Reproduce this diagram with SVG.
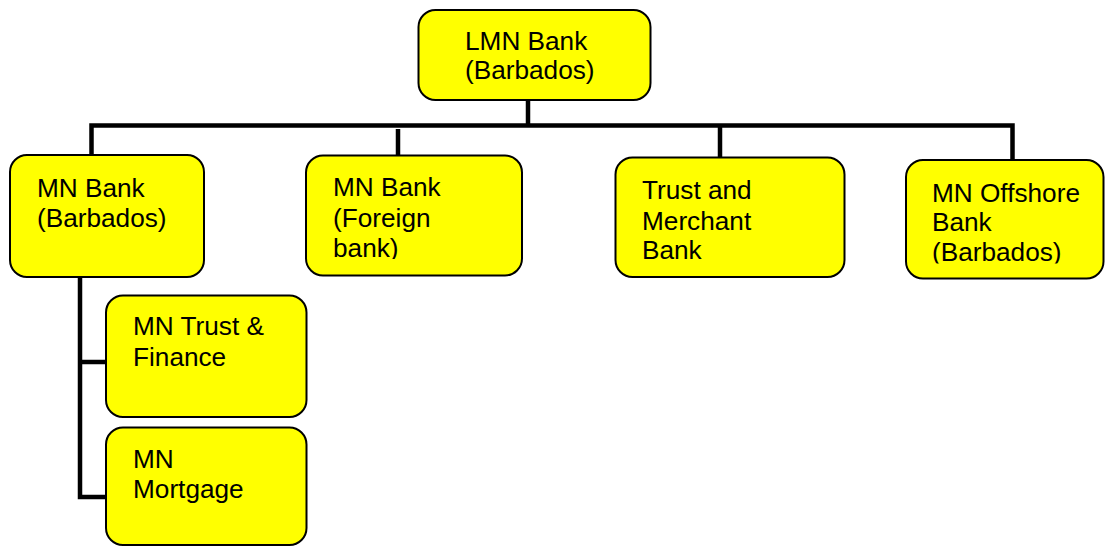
<svg xmlns="http://www.w3.org/2000/svg" width="1105" height="546" viewBox="0 0 1105 546">
<style>
.box{fill:#ffff00;stroke:#000;stroke-width:2}
.t{font-family:"Liberation Sans",Arial,sans-serif;font-size:26.2px;fill:#000}
.c{stroke:#000;stroke-width:4.5;fill:none}
</style>
<defs>
<clipPath id="clipF"><rect x="300" y="150" width="230" height="109"/></clipPath>
<clipPath id="clipO"><rect x="900" y="150" width="205" height="113.5"/></clipPath>
</defs>
<rect width="1105" height="546" fill="#fff"/>
<g id="connectors">
<polyline class="c" points="528,100 528,125.5"/>
<polyline class="c" points="91.5,155 91.5,125.5 1012.5,125.5 1012.5,160"/>
<polyline class="c" points="398,129 398,156"/>
<polyline class="c" points="720,125.5 720,157"/>
<polyline class="c" points="80,277 80,497 106,497"/>
<polyline class="c" points="80,362 106,362"/>
</g>
<g id="lmn">
<rect class="box" x="418.5" y="10" width="232" height="90" rx="17"/>
<text class="t" x="465" y="50">LMN Bank</text>
<text class="t" x="465" y="79">(Barbados)</text>
</g>
<g id="mnbank">
<rect class="box" x="10" y="155" width="194" height="122" rx="17"/>
<text class="t" x="37" y="197">MN Bank</text>
<text class="t" x="37" y="227">(Barbados)</text>
</g>
<g id="foreign">
<rect class="box" x="306" y="155.5" width="216" height="120" rx="17"/>
<g clip-path="url(#clipF)">
<text class="t" x="333" y="196">MN Bank</text>
<text class="t" x="333" y="227">(Foreign</text>
<text class="t" x="333" y="257">bank)</text>
</g>
</g>
<g id="trust">
<rect class="box" x="615.5" y="157.5" width="229" height="119.5" rx="17"/>
<text class="t" x="642" y="199">Trust and</text>
<text class="t" x="642" y="229.5">Merchant</text>
<text class="t" x="642" y="258.5">Bank</text>
</g>
<g id="offshore">
<rect class="box" x="906" y="160" width="197.5" height="118.5" rx="17"/>
<g clip-path="url(#clipO)">
<text class="t" x="932" y="201.5">MN Offshore</text>
<text class="t" x="932" y="231">Bank</text>
<text class="t" x="932" y="260.5">(Barbados)</text>
</g>
</g>
<g id="trustfinance">
<rect class="box" x="106" y="295.5" width="200.5" height="121.5" rx="17"/>
<text class="t" x="133" y="335">MN Trust &amp;</text>
<text class="t" x="133" y="366">Finance</text>
</g>
<g id="mortgage">
<rect class="box" x="106" y="427.5" width="200.5" height="117.5" rx="17"/>
<text class="t" x="133" y="468">MN</text>
<text class="t" x="133" y="498">Mortgage</text>
</g>
</svg>
